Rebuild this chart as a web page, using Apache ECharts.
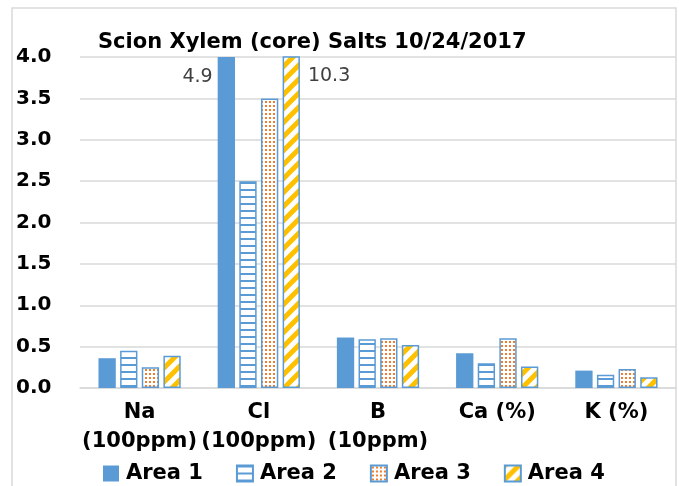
<!DOCTYPE html>
<html>
<head>
<meta charset="utf-8">
<script src="https://cdn.jsdelivr.net/npm/echarts@6/dist/echarts.min.js"></script>
<style>
  html, body { margin: 0; padding: 0; background: #fff; }
  #main { width: 679px; height: 486px; }
</style>
</head>
<body>
<div id="main"></div>
<script>
// data
var categories = ['Na\n(100ppm)', 'Cl\n(100ppm)', 'B\n(10ppm)', 'Ca (%)', 'K (%)']
var area1 = [0.36, 4.9, 0.61, 0.42, 0.21]
var area2 = [0.45, 2.5, 0.59, 0.30, 0.16]
var area3 = [0.25, 3.5, 0.60, 0.60, 0.23]
var area4 = [0.39, 10.3, 0.52, 0.26, 0.13]
var yTicks = [0, 0.5, 1, 1.5, 2, 2.5, 3, 3.5, 4]

var BLUE = '#5B9BD5'
var ORANGE = '#ED7D31'
var GOLD = '#FFC000'
var FONT = 'DejaVu Sans'

function tile(w, h, draw) {
  var c = document.createElement('canvas')
  c.width = w
  c.height = h
  var ctx = c.getContext('2d')
  ctx.fillStyle = '#fff'
  ctx.fillRect(0, 0, w, h)
  draw(ctx)
  return c
}

// horizontal lines
var hLines = tile(8, 7, function (ctx) {
  ctx.fillStyle = BLUE
  ctx.fillRect(0, 0, 8, 2)
})
// small dots
var dots = tile(4, 4, function (ctx) {
  ctx.fillStyle = ORANGE
  ctx.fillRect(1, 1, 2, 2)
})
// wide upward diagonal
var diag = tile(14, 14, function (ctx) {
  ctx.strokeStyle = GOLD
  ctx.lineWidth = 5
  ctx.beginPath()
  ctx.moveTo(-7, 21); ctx.lineTo(21, -7)
  ctx.moveTo(-14, 14); ctx.lineTo(14, -14)
  ctx.moveTo(0, 28); ctx.lineTo(28, 0)
  ctx.stroke()
})

// labels for the two bars that run off the top
function clipped(series, v) {
  return series.map(function (d, i) {
    if (d <= 4) return d
    return {
      value: d,
      label: {
        show: true,
        formatter: String(d),
        position: v < 0 ? [-5, 20] : ['100%', 20],
        offset: v < 0 ? [0, 0] : [8, 0],
        align: v < 0 ? 'right' : 'left',
        verticalAlign: 'middle',
        fontFamily: FONT,
        fontSize: 19,
        color: '#404040'
      }
    }
  })
}

var myChart = echarts.init(document.getElementById('main'))

var option = {
  backgroundColor: '#fff',
  animation: false,
  graphic: [{
    type: 'rect',
    shape: { x: 12, y: 8, width: 664, height: 500 },
    style: { fill: 'none', stroke: '#d9d9d9', lineWidth: 1.5 },
    silent: true
  }],
  title: {
    text: 'Scion Xylem (core) Salts 10/24/2017',
    left: 93,
    top: 27,
    textStyle: { fontFamily: FONT, fontWeight: 'bold', fontSize: 21, color: '#000' }
  },
  grid: { left: 80, right: 3, top: 57, bottom: 98 },
  legend: {
    top: 458,
    left: 98,
    icon: 'rect',
    itemWidth: 16,
    itemHeight: 16,
    itemGap: 33,
    textStyle: { fontFamily: FONT, fontWeight: 'bold', fontSize: 21, color: '#000', padding: [0, 0, 0, 2] },
    data: ['Area 1', 'Area 2', 'Area 3', 'Area 4']
  },
  xAxis: {
    type: 'category',
    data: categories,
    axisLine: { lineStyle: { color: '#d9d9d9', width: 1.5 } },
    axisTick: { show: false },
    axisLabel: {
      interval: 0,
      margin: 10,
      lineHeight: 29,
      fontFamily: FONT,
      fontWeight: 'bold',
      fontSize: 21,
      color: '#000'
    }
  },
  yAxis: {
    type: 'value',
    min: yTicks[0],
    max: yTicks[yTicks.length - 1],
    interval: yTicks[1] - yTicks[0],
    axisLine: { show: false },
    axisTick: { show: false },
    splitLine: { lineStyle: { color: '#d9d9d9', width: 1.5 } },
    axisLabel: {
      align: 'left',
      margin: 64,
      fontFamily: FONT,
      fontWeight: 'bold',
      fontSize: 20,
      color: '#000',
      formatter: function (v) { return v.toFixed(1) }
    }
  },
  series: [
    {
      name: 'Area 1', type: 'bar', data: clipped(area1, -1),
      barCategoryGap: '31%', barGap: '25%',
      itemStyle: { color: BLUE }
    },
    {
      name: 'Area 2', type: 'bar', data: area2,
      itemStyle: { color: { image: hLines, repeat: 'repeat' }, borderColor: BLUE, borderWidth: 1.5 }
    },
    {
      name: 'Area 3', type: 'bar', data: area3,
      itemStyle: { color: { image: dots, repeat: 'repeat' }, borderColor: BLUE, borderWidth: 1.5 }
    },
    {
      name: 'Area 4', type: 'bar', data: clipped(area4, 1),
      itemStyle: { color: { image: diag, repeat: 'repeat' }, borderColor: BLUE, borderWidth: 1.5 }
    }
  ]
}
myChart.setOption(option)
</script>
</body>
</html>
